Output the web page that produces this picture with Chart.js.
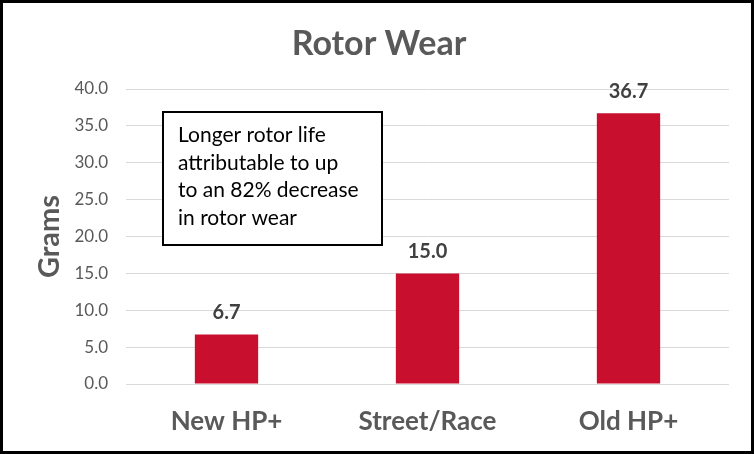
<!DOCTYPE html>
<html>
<head>
<meta charset="utf-8">
<script src="https://cdn.jsdelivr.net/npm/chart.js@4.4.1/dist/chart.umd.min.js"></script>
<style>
  body { margin: 0; background: #fff; }
  #frame { width: 754px; height: 454px; box-sizing: border-box; border: 3px solid #000; background: #fff; }
  canvas { display: block; }
</style>
</head>
<body>
<div id="frame"><canvas id="wear" width="748" height="448"></canvas></div>
<script>
// chart data
const categories = ['New HP+', 'Street/Race', 'Old HP+'];
const grams = [6.7, 15.0, 36.7];
const yTicks = [0, 5, 10, 15, 20, 25, 30, 35, 40];
const chartTitle = 'Rotor Wear';
const noteLines = ['Longer rotor life', 'attributable to up', 'to an 82% decrease', 'in rotor wear'];

const fontName = 'Lato, "Open Sans", sans-serif';
const grey = '#595959';

// title centred on the whole canvas (built-in one is shifted by right padding)
const centreTitle = {
    id: 'centreTitle',
    afterDraw(chart) {
        const ctx = chart.ctx;
        ctx.save();
        ctx.font = 'bold 34px ' + fontName;
        ctx.fillStyle = grey;
        ctx.textAlign = 'center';
        ctx.textBaseline = 'middle';
        ctx.fillText(chartTitle, chart.width / 2 + 2, 41);
        ctx.restore();
    }
};

// value labels above each bar
const barLabels = {
    id: 'barLabels',
    afterDatasetsDraw(chart) {
        const ctx = chart.ctx;
        const meta = chart.getDatasetMeta(0);
        ctx.save();
        ctx.font = 'bold 20px ' + fontName;
        ctx.fillStyle = '#404040';
        ctx.textAlign = 'center';
        ctx.textBaseline = 'middle';
        meta.data.forEach((bar, i) => {
            ctx.fillText(grams[i].toFixed(1), bar.x, bar.y - 22);
        });
        ctx.restore();
    }
};

// the text box in the upper left
const noteBox = {
    id: 'noteBox',
    afterDatasetsDraw(chart) {
        const ctx = chart.ctx;
        ctx.save();
        ctx.fillStyle = '#fff';
        ctx.fillRect(160, 109, 219, 133);
        ctx.strokeStyle = '#000';
        ctx.lineWidth = 2;
        ctx.strokeRect(160, 109, 219, 133);
        ctx.fillStyle = '#000';
        ctx.font = '21px ' + fontName;
        ctx.textAlign = 'left';
        ctx.textBaseline = 'alphabetic';
        noteLines.forEach((line, i) => {
            ctx.fillText(line, 175, 139 + i * 27.7);
        });
        ctx.restore();
    }
};

new Chart(document.getElementById('wear'), {
    type: 'bar',
    data: {
        labels: categories,
        datasets: [{
            data: grams,
            backgroundColor: '#C8102E',
            categoryPercentage: 1,
            barPercentage: 0.315
        }]
    },
    options: {
        responsive: false,
        animation: false,
        devicePixelRatio: 1,
        layout: { padding: { left: 0, right: 22, top: 86, bottom: 0 } },
        plugins: {
            legend: { display: false },
            tooltip: { enabled: false },
            title: { display: false }
        },
        scales: {
            x: {
                grid: { display: false, drawTicks: false },
                border: { display: false },
                ticks: {
                    color: grey,
                    padding: 22,
                    font: { family: fontName, size: 26, weight: 'bold', lineHeight: 1.2 }
                },
                afterFit(scale) { scale.height = 67; }
            },
            y: {
                min: 0,
                max: 40,
                afterBuildTicks(scale) { scale.ticks = yTicks.map(v => ({ value: v })); },
                grid: { color: '#d9d9d9', lineWidth: 1, drawTicks: false },
                border: { display: false },
                ticks: {
                    color: grey,
                    padding: 18,
                    font: { family: fontName, size: 17 },
                    callback: v => Number(v).toFixed(1)
                },
                title: {
                    display: true,
                    text: 'Grams',
                    color: grey,
                    font: { family: fontName, size: 29, weight: 'bold', lineHeight: 1.2 },
                    padding: { top: 29, bottom: 0 }
                },
                afterFit(scale) { scale.width = 123; }
            }
        }
    },
    plugins: [barLabels, noteBox, centreTitle]
});
</script>
</body>
</html>
